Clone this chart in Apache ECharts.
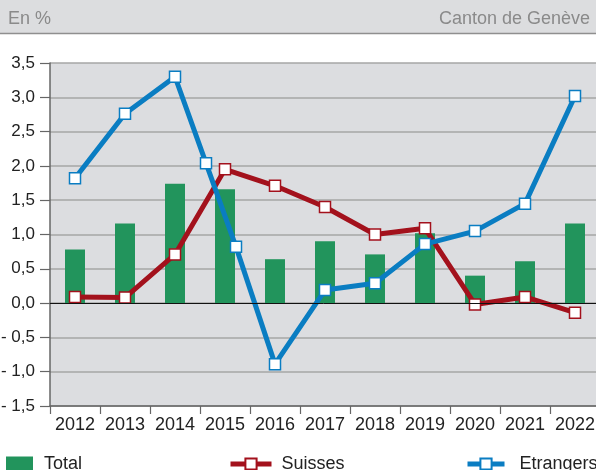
<!DOCTYPE html>
<html>
<head>
<meta charset="utf-8">
<script src="https://cdn.jsdelivr.net/npm/echarts@6/dist/echarts.min.js"></script>
<style>
    html, body { margin: 0; padding: 0; background: #fff; }
    #chart { width: 596px; height: 470px; }
</style>
</head>
<body>
<div id="chart"></div>
<script>
    // données
    var years = ['2012', '2013', '2014', '2015', '2016', '2017', '2018', '2019', '2020', '2021', '2022'];
    var total = [0.78, 1.16, 1.74, 1.66, 0.64, 0.90, 0.71, 1.02, 0.40, 0.61, 1.16];
    var suisses = [0.09, 0.08, 0.71, 1.95, 1.71, 1.40, 1.00, 1.09, -0.02, 0.09, -0.14];
    // la courbe des étrangers a deux points autour de 2015 dans l'original
    var etrangersX = [2012, 2013, 2014, 2014.62, 2015.22, 2016, 2017, 2018, 2019, 2020, 2021, 2022];
    var etrangersY = [1.82, 2.76, 3.30, 2.04, 0.82, -0.89, 0.19, 0.29, 0.86, 1.05, 1.45, 3.02];

    var font = 'Liberation Sans, Arial, sans-serif';
    var red = '#a3111c', blue = '#0a7dc2', green = '#22945c';

    var chart = echarts.init(document.getElementById('chart'));

    var etrangers = etrangersX.map(function (x, i) { return [x, etrangersY[i]]; });

    var option = {
        backgroundColor: '#fff',
        animation: false,
        graphic: [{
            type: 'rect',
            shape: { x: 0, y: 0, width: 596, height: 33 },
            style: { fill: '#dcdddf' },
            silent: true
        }, {
            type: 'line',
            shape: { x1: 0, y1: 33.5, x2: 596, y2: 33.5 },
            style: { stroke: '#8f8f8f', lineWidth: 1.5 },
            silent: true
        }],
        title: [{
            text: 'En %',
            left: 8, top: 10, padding: 0,
            textStyle: { fontFamily: font, fontSize: 18, fontWeight: 'normal', color: '#8a8a8a' }
        }, {
            text: 'Canton de Genève',
            right: 6, top: 10, padding: 0,
            textStyle: { fontFamily: font, fontSize: 18, fontWeight: 'normal', color: '#8a8a8a' }
        }],
        legend: [{
            data: [{ name: 'Total', icon: 'rect' }],
            left: 6, top: 455, padding: 0,
            itemWidth: 27, itemHeight: 15,
            textStyle: { fontFamily: font, fontSize: 18, color: '#222', padding: [0, 0, 0, 6] }
        }, {
            data: ['Suisses'],
            left: 228, top: 455, padding: 0,
            itemWidth: 41, itemHeight: 14,
            lineStyle: { width: 5 },
            textStyle: { fontFamily: font, fontSize: 18, color: '#222', padding: [0, 0, 0, 5] }
        }, {
            data: ['Etrangers'],
            left: 465, top: 455, padding: 0,
            itemWidth: 37, itemHeight: 14,
            lineStyle: { width: 5 },
            textStyle: { fontFamily: font, fontSize: 18, color: '#222', padding: [0, 0, 0, 10] }
        }],
        grid: {
            left: 50, top: 63, width: 550, height: 343,
            outerBoundsMode: 'none',
            containLabel: false,
            show: true, backgroundColor: '#dcdde0', borderWidth: 0
        },
        xAxis: [{
            type: 'category',
            data: years,
            axisLine: { onZero: false, lineStyle: { color: '#666', width: 1.5 } },
            axisTick: { show: true, length: 8, lineStyle: { color: '#666', width: 1.2 } },
            axisLabel: { fontFamily: font, fontSize: 18, color: '#222', margin: 10, interval: 0 }
        }, {
            // axe caché pour la courbe des étrangers
            type: 'value',
            position: 'bottom',
            min: 2011.5, max: 2022.5,
            show: false
        }],
        yAxis: {
            type: 'value',
            min: -1.5, max: 3.5, interval: 0.5,
            axisLine: { show: true, lineStyle: { color: '#666', width: 1.5 } },
            axisTick: { show: true, length: 10, lineStyle: { color: '#666', width: 1.2 } },
            axisLabel: {
                fontFamily: font, fontSize: 17, color: '#222', margin: 15,
                formatter: function (v) {
                    var s = Math.abs(v).toFixed(1).replace('.', ',');
                    return v < 0 ? '- ' + s : s;
                }
            },
            splitLine: { lineStyle: { color: '#a6a6a6', width: 1.5 } }
        },
        series: [{
            name: 'Total',
            type: 'bar',
            data: total,
            barWidth: 20,
            itemStyle: { color: green },
            z: 2,
            // ligne du zéro
            markLine: {
                silent: true,
                symbol: 'none',
                label: { show: false },
                lineStyle: { color: '#111', width: 1, type: 'solid' },
                data: [{ yAxis: 0 }]
            }
        }, {
            name: 'Suisses',
            type: 'line',
            data: suisses,
            symbol: 'rect',
            symbolSize: 11,
            lineStyle: { color: red, width: 5 },
            itemStyle: { color: '#fff', borderColor: red, borderWidth: 1.5 },
            z: 3
        }, {
            name: 'Etrangers',
            type: 'line',
            xAxisIndex: 1,
            data: etrangers,
            symbol: 'rect',
            symbolSize: 11,
            lineStyle: { color: blue, width: 5 },
            itemStyle: { color: '#fff', borderColor: blue, borderWidth: 1.5 },
            z: 4
        }]
    };

    chart.setOption(option);
</script>
</body>
</html>
